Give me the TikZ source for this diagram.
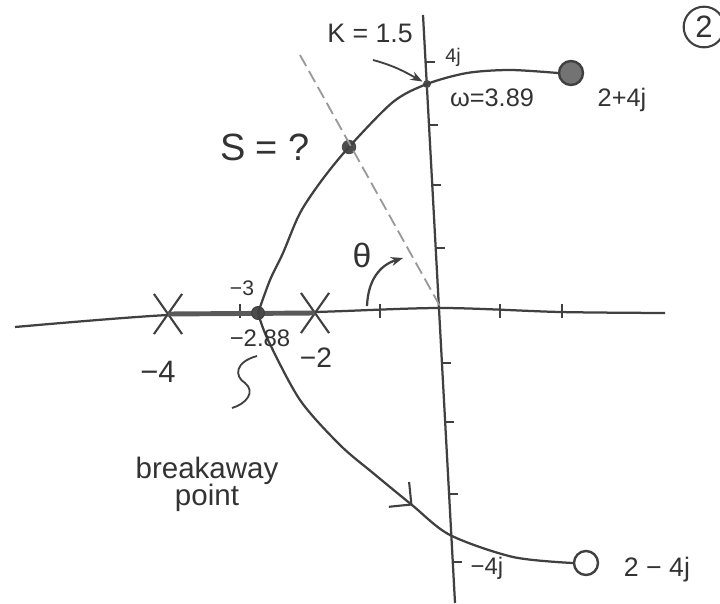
\documentclass[tikz,border=0pt]{standalone}
\usepackage{fontspec}
\setmainfont{Liberation Sans}
\usetikzlibrary{arrows.meta,shapes.misc,decorations.markings}

\begin{document}
\begin{tikzpicture}[x=0.025cm,y=-0.025cm,line width=1.6pt,black!75,>={Stealth[length=3mm]},
  pole/.style={cross out,draw,line width=1.5pt,minimum width=0.65cm,minimum height=0.95cm,inner sep=0pt},
  zero/.style={circle,draw,line width=1.7pt,minimum size=0.6cm,inner sep=0pt},
  ptdot/.style={circle,fill=black!70,inner sep=0pt,minimum size=#1},
  lbl/.style={font=\fontsize{#1}{#1}\selectfont,text=black!80}]
  \useasboundingbox (0,0) rectangle (720,603);
  % ejes
  \draw plot[smooth] coordinates {(15,327) (168,315) (315,312) (441,308) (560,312) (665,313)};
  \draw (423,15) -- (455,603);
  \coordinate (org) at (441,308);
  \foreach \x in {240,380,500,562} \draw (\x,304) -- (\x,318);
  \foreach \y in {62,125,185,248,363,422,494,562} {
    \pgfmathsetmacro{\ax}{423+(\y-15)*0.0544}
    \draw (\ax,\y) -- ++(9,0);
  }
  % polos y ceros
  \node[pole] (p4) at (168,314) {};
  \node[pole] (p2) at (315,313) {};
  \node[zero,fill=black!55] (z1) at (571,73) {};
  \node[zero] (z2) at (586,563) {};
  \draw[line width=3.5pt,black!65] (p4.center) -- (p2.center);
  \node[ptdot=0.32cm,draw,line width=0.8pt] (brk) at (258,313) {};
  \node[ptdot=0.36cm] (sq) at (349,147) {};
  \node[ptdot=0.2cm] (cross) at (427,84) {};
  % ramas del lugar
  \draw plot[smooth] coordinates {(brk.center) (270,280) (283,253) (300,213) (322,180) (sq.center) (393,102) (cross.center) (467,73) (510,70) (z1.west)};
  \draw[postaction={decorate},decoration={markings,mark=at position 0.59 with {\arrow{Straight Barb[length=4mm,line width=1.5pt]}}}]
    plot[smooth] coordinates {(brk.center) (268,340) (300,400) (340,445) (373,473) (412,505) (450,535) (513,557) (z2.west)};
  % recta del angulo
  \draw[black!40,line width=1.3pt,dash pattern=on 9pt off 4pt] (300,55) -- (org);
  \draw[->] (367,306) .. controls (368,280) and (380,265) .. (403,258);
  % textos
  \node[lbl=19] (klbl) at (370,33) {K = 1.5};
  \draw[->,line width=1.3pt] (373,60) .. controls (395,66) and (405,72) .. (cross);
  \node[lbl=14] (j4) at (453,57) {4j};
  \node[lbl=18] (wlbl) at (492,98) {ω=3.89};
  \node[lbl=18] (z1lbl) at (622,100) {2+4j};
  \node[lbl=27] (slbl) at (265,147) {S = ?};
  \node[lbl=24] (th) at (362,255) {θ};
  \node[lbl=15] (m3) at (242,288) {−3};
  \node[lbl=17] (m288) at (260,338) {−2.88};
  \node[lbl=20] (m2) at (316,358) {−2};
  \node[lbl=22] (m4) at (158,372) {−4};
  \node[lbl=21,align=center] (bktxt) at (207,484) {breakaway\\[-2pt]point};
  \node[lbl=17] (mj4) at (487,568) {−4j};
  \node[lbl=19] (z2lbl) at (657,570) {2 − 4j};
  \node[lbl=22,circle,draw,line width=1.5pt,minimum size=1cm] (num) at (704,27) {2};
  % marca de la etiqueta
  \coordinate (sqa) at (257,356);
  \coordinate (sqb) at (232,408);
  \draw[line width=1.3pt] (sqa) .. controls (235,362) and (234,376) .. (245,383) .. controls (256,392) and (246,404) .. (sqb);
\end{tikzpicture}
\end{document}
